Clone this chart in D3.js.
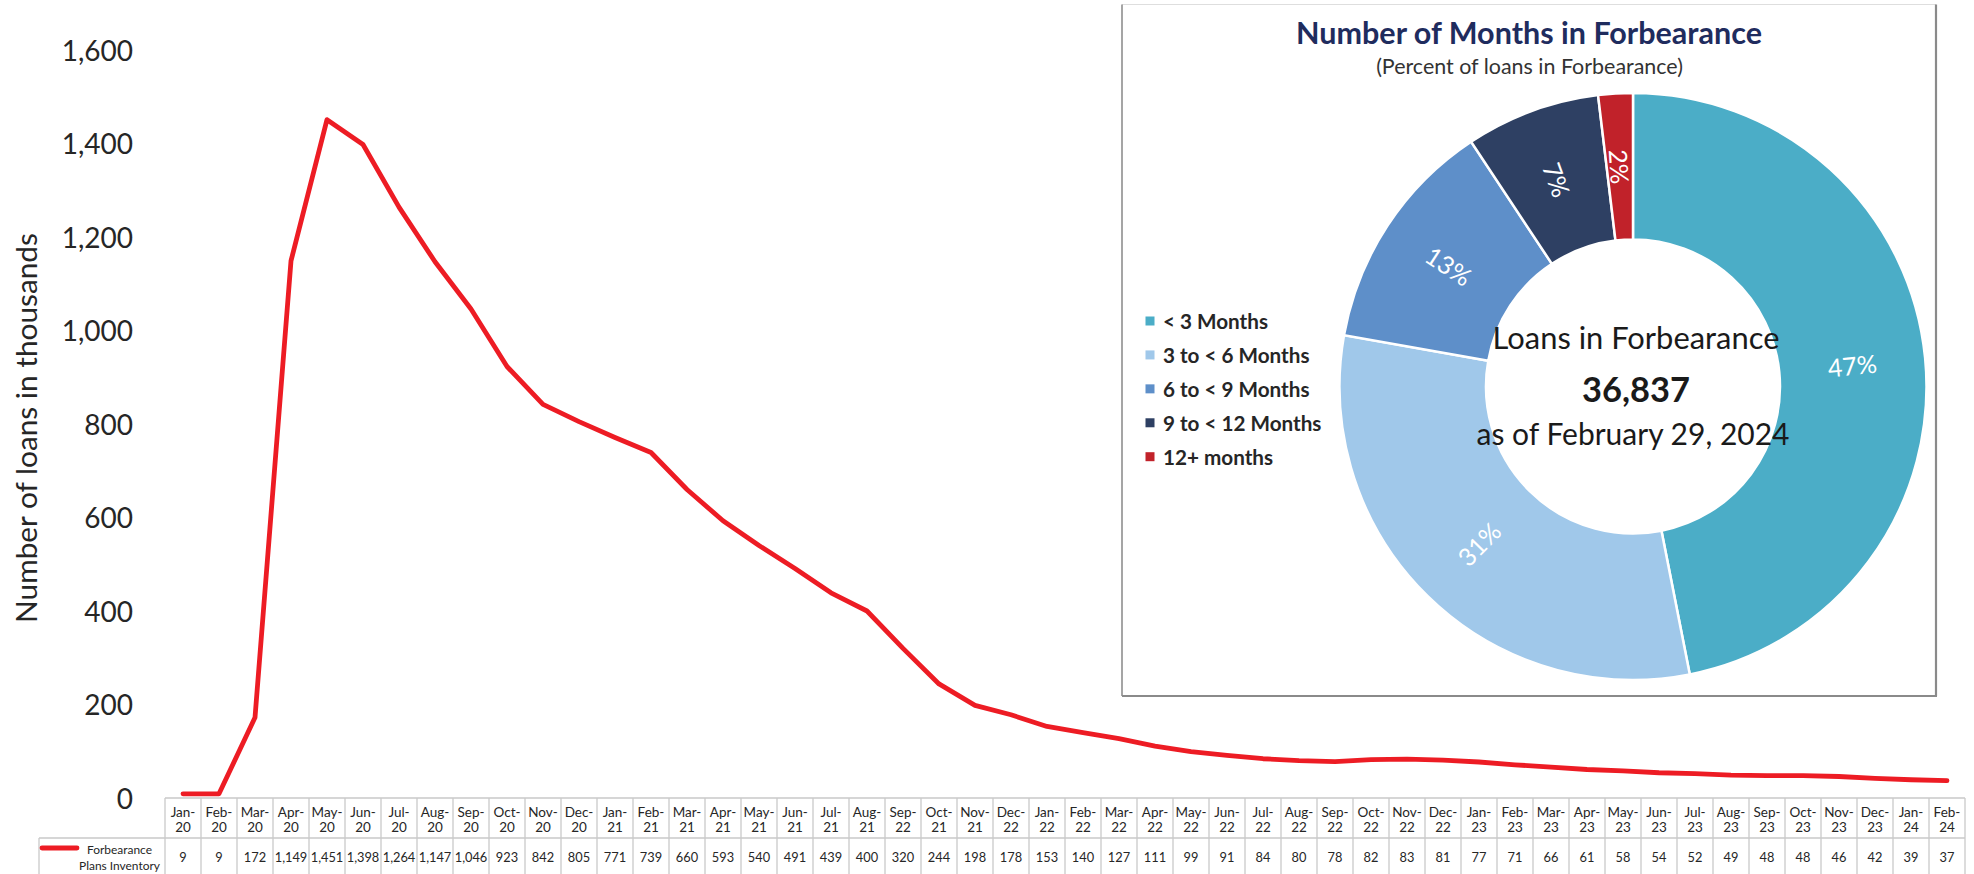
<!DOCTYPE html>
<html>
<head>
<meta charset="utf-8">
<script src="https://cdn.jsdelivr.net/npm/d3@7"></script>
<style>
  html, body { margin: 0; padding: 0; background: #fff; }
  svg { display: block; }
</style>
</head>
<body>
<svg id="chart" width="1974" height="874"></svg>
<script>
// ---------------- DATA ----------------
const months = ["Jan-20","Feb-20","Mar-20","Apr-20","May-20","Jun-20","Jul-20","Aug-20","Sep-20","Oct-20","Nov-20","Dec-20",
  "Jan-21","Feb-21","Mar-21","Apr-21","May-21","Jun-21","Jul-21","Aug-21","Sep-22","Oct-21","Nov-21","Dec-22",
  "Jan-22","Feb-22","Mar-22","Apr-22","May-22","Jun-22","Jul-22","Aug-22","Sep-22","Oct-22","Nov-22","Dec-22",
  "Jan-23","Feb-23","Mar-23","Apr-23","May-23","Jun-23","Jul-23","Aug-23","Sep-23","Oct-23","Nov-23","Dec-23",
  "Jan-24","Feb-24"];
const inventory = [9,9,172,1149,1451,1398,1264,1147,1046,923,842,805,
  771,739,660,593,540,491,439,400,320,244,198,178,
  153,140,127,111,99,91,84,80,78,82,83,81,
  77,71,66,61,58,54,52,49,48,48,46,42,
  39,37];
const seriesName = ["Forbearance", "Plans Inventory"];
const yTicks = [0,200,400,600,800,1000,1200,1400,1600];
const yTitle = "Number of loans in thousands";

const donutCategories = ["< 3 Months","3 to < 6 Months","6 to < 9 Months","9 to < 12 Months","12+ months"];
const donutShares = [46.9,30.9,12.9,7.4,1.9];
const donutLabels = ["47%","31%","13%","7%","2%"];
const donutColors = ["#4BADC7","#A0C8EA","#5E8FC9","#2E4063","#C1222A"];
const donutTitle = "Number of Months in Forbearance";
const donutSubtitle = "(Percent of loans in Forbearance)";
const centerLines = ["Loans in Forbearance","36,837","as of February 29, 2024"];

// ---------------- HELPERS ----------------
const FONT = "Lato, 'Open Sans', 'Noto Sans', sans-serif";
function fit(sel, w) {
  const fs = parseFloat(sel.attr("font-size"));
  const cur = sel.node().getComputedTextLength();
  if (cur > 0) sel.attr("font-size", fs * w / cur);
  return sel;
}

const svg = d3.select("#chart");
svg.append("rect").attr("width",1974).attr("height",874).attr("fill","#fff");

// ---------------- LINE CHART ----------------
const tableLeft = 165, tableRight = 1965;
const idx = d3.range(months.length);
const x = d3.scaleBand().domain(idx).range([tableLeft, tableRight]);
const xc = i => x(i) + x.bandwidth()/2;
const y = d3.scaleLinear().domain([0,1600]).range([798, 50]);

const yAxis = d3.axisLeft(y).tickValues(yTicks).tickSize(0).tickPadding(0)
  .tickFormat(d3.format(","));
const gy = svg.append("g").attr("transform","translate(133,0)").call(yAxis);
gy.select(".domain").remove();
gy.selectAll("text").attr("font-family", FONT).attr("font-size", 28)
  .attr("fill","#262626").attr("dy","0.36em").attr("x",0);

const yt = svg.append("text")
  .attr("transform","translate(25,428) rotate(-90)")
  .attr("text-anchor","middle").attr("dominant-baseline","central")
  .attr("font-family", FONT).attr("font-size", 30).attr("fill","#262626")
  .text(yTitle);
fit(yt, 390);

const line = d3.line()
  .x((d,i) => xc(i))
  .y(d => y(d));
svg.append("path").datum(inventory)
  .attr("d", line).attr("fill","none")
  .attr("stroke","#ED1C24").attr("stroke-width",4.8)
  .attr("stroke-linejoin","round").attr("stroke-linecap","round");

// ---------------- DATA TABLE ----------------
const gridColor = "#c9c9c9";
const hdrTop = 798, rowTop = 838, rowBottom = 880;
const tbl = svg.append("g");
tbl.append("line").attr("x1",tableLeft).attr("x2",tableRight).attr("y1",hdrTop).attr("y2",hdrTop)
  .attr("stroke",gridColor).attr("stroke-width",1.3);
tbl.append("line").attr("x1",39).attr("x2",tableRight).attr("y1",rowTop).attr("y2",rowTop)
  .attr("stroke",gridColor).attr("stroke-width",1.3);
tbl.append("line").attr("x1",39).attr("x2",39).attr("y1",rowTop).attr("y2",rowBottom)
  .attr("stroke",gridColor).attr("stroke-width",1.3);
const edges = idx.map(i => x(i)).concat([tableRight]);
tbl.selectAll("line.v").data(edges).enter().append("line").attr("class","v")
  .attr("x1",d=>d).attr("x2",d=>d).attr("y1",hdrTop).attr("y2",rowBottom)
  .attr("stroke",gridColor).attr("stroke-width",1.3);

const hdr = tbl.selectAll("text.h").data(months).enter().append("text").attr("class","h")
  .attr("text-anchor","middle").attr("font-family",FONT).attr("font-size",13.5).attr("fill","#262626");
hdr.append("tspan").attr("x", (d,i) => xc(i)).attr("y",816.5).text(d => d.split("-")[0] + "-");
hdr.append("tspan").attr("x", (d,i) => xc(i)).attr("y",831.5).text(d => d.split("-")[1]);

tbl.selectAll("text.val").data(inventory).enter().append("text").attr("class","val")
  .attr("x",(d,i)=> xc(i)).attr("y",861.5)
  .attr("text-anchor","middle").attr("font-family",FONT).attr("font-size",12.8).attr("fill","#262626")
  .text(d => d3.format(",")(d));

tbl.append("line").attr("x1",42).attr("x2",77).attr("y1",848).attr("y2",848)
  .attr("stroke","#ED1C24").attr("stroke-width",4.8).attr("stroke-linecap","round");
const legTxt = tbl.selectAll("text.leg").data(seriesName).enter().append("text").attr("class","leg")
  .attr("x",119.5).attr("y",(d,i)=> 853.5 + i*16).attr("text-anchor","middle")
  .attr("font-family",FONT).attr("font-size",13).attr("fill","#262626").text(d=>d);
const legLong = d3.max(legTxt.nodes(), n => n.getComputedTextLength());
legTxt.attr("font-size", 13 * 81 / legLong);

// ---------------- DONUT PANEL ----------------
const box = svg.append("g");
box.append("rect").attr("x",1122).attr("y",4.5).attr("width",814).attr("height",691.5)
  .attr("fill","#fff").attr("stroke","none");
box.append("line").attr("x1",1122).attr("x2",1936).attr("y1",4.5).attr("y2",4.5).attr("stroke","#dedede").attr("stroke-width",1);
box.append("line").attr("x1",1122).attr("x2",1122).attr("y1",4.5).attr("y2",696).attr("stroke","#8f8f8f").attr("stroke-width",1.6);
box.append("line").attr("x1",1936).attr("x2",1936).attr("y1",4.5).attr("y2",696).attr("stroke","#8a8a8a").attr("stroke-width",2.2);
box.append("line").attr("x1",1122).attr("x2",1937).attr("y1",696).attr("y2",696).attr("stroke","#8a8a8a").attr("stroke-width",2.2);

const t1 = box.append("text").attr("x",1529).attr("y",43.5).attr("text-anchor","middle")
  .attr("font-family",FONT).attr("font-weight",700).attr("font-size",30).attr("fill","#1F2C5E").text(donutTitle);
fit(t1, 466);
const t2 = box.append("text").attr("x",1529.5).attr("y",73.5).attr("text-anchor","middle")
  .attr("font-family",FONT).attr("font-size",19).attr("fill","#333").text(donutSubtitle);
fit(t2, 307);

const cx = 1633, cy = 386.5, R = 293.5, r0 = 147;
const pie = d3.pie().sort(null).value(d => d);
const arcs = pie(donutShares);
const arc = d3.arc().innerRadius(r0).outerRadius(R);
const dg = box.append("g").attr("transform",`translate(${cx},${cy})`);
dg.selectAll("path").data(arcs).enter().append("path")
  .attr("d",arc).attr("fill",(d,i)=>donutColors[i])
  .attr("stroke","#fff").attr("stroke-width",2.5);

const labelArc = d3.arc().innerRadius((r0+R)/2).outerRadius((r0+R)/2);
dg.selectAll("text.pl").data(arcs).enter().append("text").attr("class","pl")
  .attr("transform", d => {
    const c = labelArc.centroid(d);
    let a = (d.startAngle + d.endAngle)/2 * 180/Math.PI - 90;
    if (a > 90) a -= 180;
    if (a < -90) a += 180;
    return `translate(${c[0]},${c[1]}) rotate(${a})`;
  })
  .attr("text-anchor","middle").attr("dominant-baseline","central")
  .attr("font-family",FONT).attr("font-size",25).attr("fill","#fff")
  .text((d,i)=>donutLabels[i]);

const c1 = box.append("text").attr("x",cx+3).attr("y",348.5).attr("text-anchor","middle")
  .attr("font-family",FONT).attr("font-size",30).attr("fill","#1a1a1a").text(centerLines[0]);
fit(c1, 287);
const c2 = box.append("text").attr("x",cx+3).attr("y",401.5).attr("text-anchor","middle")
  .attr("font-family",FONT).attr("font-weight",700).attr("font-size",40).attr("fill","#1a1a1a").text(centerLines[1]);
fit(c2, 108);
const c3 = box.append("text").attr("x",cx).attr("y",445).attr("text-anchor","middle")
  .attr("font-family",FONT).attr("font-size",30).attr("fill","#1a1a1a").text(centerLines[2]);
fit(c3, 313);

const lg = box.append("g");
const legY = d3.scalePoint().domain(donutCategories).range([321, 456.7]);
lg.selectAll("rect").data(donutCategories).enter().append("rect")
  .attr("x",1145.5).attr("y",d=>legY(d)-4.5).attr("width",9).attr("height",9)
  .attr("fill",(d,i)=>donutColors[i]);
const lt = lg.selectAll("text").data(donutCategories).enter().append("text")
  .attr("x",1163).attr("y",d=>legY(d)).attr("dominant-baseline","central")
  .attr("font-family",FONT).attr("font-weight",700).attr("font-size",19).attr("fill","#262626")
  .text(d=>d);
const longest = d3.max(lt.nodes(), n => n.getComputedTextLength());
lt.attr("font-size", 19 * 158.5 / longest);
</script>
</body>
</html>
